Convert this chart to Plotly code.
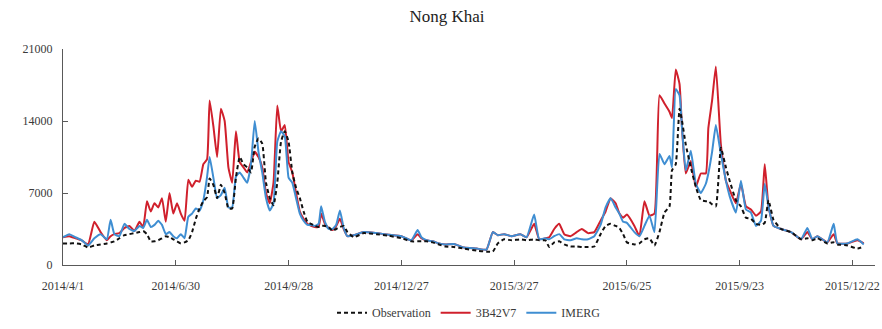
import datetime as dt
import plotly.graph_objects as go

# ---- data ----
start_date = dt.date(2014, 4, 1)
day_offsets = [0, 5, 10, 15, 20, 25, 30, 35, 38, 41, 45, 49, 53, 57, 61, 64, 67, 70, 73, 76,
               79, 82, 85, 88, 91, 94, 97, 100, 103, 106, 109, 112, 115, 117, 120, 123, 126, 129,
               132, 135, 138, 141, 144, 147, 150, 153, 156, 159, 162, 165, 168, 171, 174, 177,
               180, 183, 186, 189, 192, 195, 198, 201, 204, 206, 209, 212, 215, 218, 221, 224,
               227, 232, 240, 250, 260, 270, 278, 283, 286, 290, 295, 300, 305, 312, 320, 330,
               338, 343, 347, 352, 358, 365, 370, 376, 380, 385, 388, 392, 396, 400, 405, 410,
               414, 419, 424, 429, 433, 437, 441, 444, 447, 450, 456, 460, 464, 468, 472, 476,
               480, 484, 486, 489, 492, 494, 497, 501, 505, 509, 513, 515, 518, 521, 525, 529,
               532, 537, 541, 545, 549, 553, 557, 560, 563, 567, 573, 581, 589, 594, 598, 602,
               610, 615, 618, 626, 634, 639]

observation = [2100, 2100, 2100, 2000, 1700, 1900, 2000, 2100, 2200, 2300, 2600, 2900, 3000, 3100,
               3200, 3300, 3000, 2300, 2300, 2400, 2600, 2800, 2700, 2500, 2300, 2100, 2200, 2400,
               3200, 4500, 5500, 6200, 6600, 8400, 7800, 6500, 7800, 7000, 5500, 5500, 8500, 10500,
               9800, 9500, 9000, 11500, 12300, 11800, 8000, 6500, 5800, 8000, 12000, 13000, 12000,
               9000, 7500, 6500, 5200, 4200, 4000, 3800, 3700, 3800, 3800, 3700, 3300, 3500, 3700,
               3800, 3200, 2700, 3100, 3000, 2850, 2600, 2300, 2300, 2300, 2300, 2200, 2000, 1800,
               1750, 1600, 1400, 1300, 1300, 2100, 2500, 2400, 2500, 2400, 2500, 2400, 2400, 1750,
               2200, 2300, 2000, 1800, 1800, 1750, 1750, 1800, 3000, 3800, 4000, 3800, 3600, 3000,
               2200, 2000, 2100, 2500, 2600, 1900, 3200, 5100, 5700, 9200, 9800, 15200, 14000,
               11700, 9500, 7600, 6300, 6200, 6200, 5900, 5700, 11400, 9500, 8200, 6300, 5700,
               4600, 4500, 4000, 3900, 4100, 6300, 4400, 3500, 3200, 2500, 2600, 2400, 2600, 2100,
               2200, 2000, 1900, 1600, 1800]

b42v7 = [2700, 2800, 2600, 2400, 2000, 4200, 3200, 2400, 2800, 3000, 3100, 3600, 3800, 3300, 4200,
         3700, 6200, 5200, 6000, 5600, 6500, 4200, 7000, 5000, 6000, 5000, 4300, 8300, 7600, 8200,
         8100, 9800, 10300, 16000, 13500, 10500, 15200, 14000, 9500, 8000, 13000, 10000, 9500,
         9000, 10000, 11000, 10500, 9500, 7000, 6000, 8000, 15500, 13000, 13600, 10000, 9000,
         7000, 5200, 4500, 4000, 3800, 3700, 3700, 5000, 4000, 3600, 3400, 3800, 4500, 3500, 2800,
         2900, 3200, 3100, 2950, 2800, 2400, 3000, 2600, 2400, 2300, 2100, 2000, 2050, 1700, 1600,
         1500, 3200, 2900, 3000, 2800, 3000, 2700, 4000, 2500, 2600, 2700, 3500, 4000, 3000, 2800,
         3200, 3500, 3100, 3200, 4300, 5200, 6500, 6000, 5000, 4600, 4900, 3800, 2800, 6200, 4800,
         5000, 16500, 15700, 14900, 14300, 19000, 17600, 13300, 8900, 10100, 7600, 8900, 8900,
         13300, 16000, 19300, 11700, 8200, 7300, 6000, 7900, 5700, 5400, 4800, 5200, 9800, 5700,
         3800, 3500, 3200, 2500, 3200, 2500, 2800, 2200, 3000, 2100, 2100, 2400, 2100]

imerg = [2700, 3000, 2700, 2400, 1900, 2600, 3000, 2500, 4400, 3000, 2800, 4000, 3500, 3300, 3800,
         3600, 4400, 3700, 3900, 4300, 3900, 3000, 3200, 2800, 2600, 3000, 2600, 4700, 5000, 5500,
         5300, 6300, 8600, 10500, 8500, 6500, 6800, 7500, 5600, 5600, 8600, 9000, 8500, 8000, 9800,
         14000, 11000, 9000, 6500, 5300, 6000, 12000, 13000, 12500, 8500, 8000, 6500, 5000, 4300,
         3900, 3900, 3800, 4000, 5700, 4200, 3500, 3500, 3900, 5300, 3600, 2800, 2900, 3200, 3100,
         2950, 2800, 2400, 3400, 2700, 2400, 2300, 2100, 2000, 2050, 1700, 1600, 1500, 3200, 2900,
         3000, 2800, 3000, 2700, 4900, 2500, 2600, 2500, 2800, 3000, 2500, 2400, 2600, 2500, 2500,
         2800, 3900, 5600, 6500, 5600, 5000, 4200, 4100, 3200, 2800, 3800, 4800, 3200, 10800, 9800,
         10600, 9500, 17100, 16500, 13300, 9200, 11100, 7900, 7000, 7900, 8900, 11000, 13600,
         10800, 8200, 6700, 5100, 8200, 5400, 5100, 3800, 4300, 7900, 5700, 3800, 3500, 3200, 2500,
         3600, 2500, 2800, 2200, 4000, 2100, 2100, 2500, 2000]

tick_days = [0, 90, 180, 270, 360, 450, 540, 630]
tick_labels = ["2014/4/1", "2014/6/30", "2014/9/28", "2014/12/27",
               "2015/3/27", "2015/6/25", "2015/9/23", "2015/12/22"]
y_ticks = [0, 7000, 14000, 21000]

dates = [start_date + dt.timedelta(days=d) for d in day_offsets]
tick_vals = [start_date + dt.timedelta(days=d) for d in tick_days]

FONT = "Liberation Serif, Times New Roman, serif"
TXT = "#3a3a3a"
AX = "#595959"

fig = go.Figure()
fig.add_trace(go.Scatter(x=dates, y=b42v7, mode="lines", name="3B42V7", legendrank=2,
                         line=dict(color="#D0202C", width=2, shape="spline", smoothing=0.4)))
fig.add_trace(go.Scatter(x=dates, y=imerg, mode="lines", name="IMERG", legendrank=3,
                         line=dict(color="#3F8ED2", width=2, shape="spline", smoothing=0.4)))
fig.add_trace(go.Scatter(x=dates, y=observation, mode="lines", name="Observation", legendrank=1,
                         line=dict(color="#111111", width=2, dash="4px,3px",
                                   shape="spline", smoothing=0.4)))

fig.update_layout(
    width=882, height=329,
    margin=dict(l=63, r=2, t=49, b=58),
    paper_bgcolor="white", plot_bgcolor="white",
    font=dict(family=FONT, size=12, color=TXT),
    title=dict(text="Nong Khai", x=447 / 882, xanchor="center",
               y=1 - 16 / 329, yanchor="middle",
               font=dict(family=FONT, size=17, color="#222222")),
    showlegend=True,
    legend=dict(orientation="h", x=0.5, xanchor="center", y=-49 / 222, yanchor="middle",
                font=dict(family=FONT, size=12, color=TXT),
                bgcolor="rgba(0,0,0,0)", tracegroupgap=0),
    xaxis=dict(type="date", range=[start_date, start_date + dt.timedelta(days=648)],
               tickmode="array", tickvals=tick_vals, ticktext=tick_labels,
               showgrid=False, zeroline=False, showline=True, linecolor=AX, linewidth=1,
               ticks="inside", ticklen=5, tickcolor=AX, ticklabelstandoff=10,
               ticklabeloverflow="allow",
               tickfont=dict(family=FONT, size=12, color=TXT)),
    yaxis=dict(range=[0, 21000], tickmode="array", tickvals=y_ticks,
               ticktext=[str(v) for v in y_ticks],
               showgrid=False, zeroline=False, showline=True, linecolor=AX, linewidth=1,
               ticks="inside", ticklen=5, tickcolor=AX, ticklabelstandoff=7,
               tickfont=dict(family=FONT, size=12, color=TXT)),
)

fig.write_html("out.html")
